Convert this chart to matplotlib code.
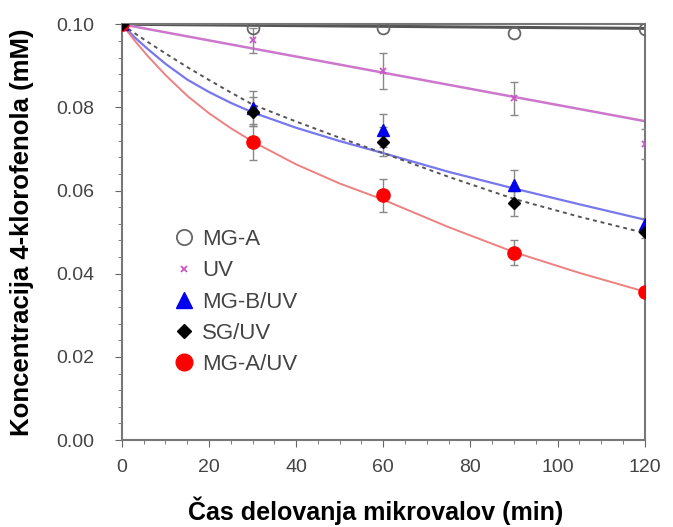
import numpy as np
import matplotlib
matplotlib.use('Agg')
import matplotlib.pyplot as plt
from matplotlib.lines import Line2D
from matplotlib.ticker import MultipleLocator

plt.rcParams['font.family'] = ['Liberation Sans', 'DejaVu Sans']

# measured points
t = [0, 30, 60, 90, 120]
mga = [0.100, 0.0990, 0.0990, 0.0980, 0.0988]
uv = [0.100, 0.0962, 0.0887, 0.0822, 0.0712]
uv_err = [0, 0.0030, 0.0043, 0.0040, 0.0035]
mgb_uv = [0.100, 0.0798, 0.0745, 0.0613, 0.0520]
mgb_err = [0, 0.0042, 0.0040, 0.0036, 0.0015]
sg_uv = [0.100, 0.0790, 0.0717, 0.0570, 0.0500]
sg_err = [0, 0.0035, 0.0035, 0.0030, 0.0015]
mga_uv = [0.100, 0.0716, 0.0589, 0.0450, 0.0356]
mga_uv_err = [0, 0.0043, 0.0040, 0.0030, 0.0010]

# fitted curves
t_fit = [0, 3, 6, 10, 15, 20, 25, 30, 40, 50, 60, 75, 90, 105, 120]
fit_mgb = [0.100, 0.0968, 0.0940, 0.0905, 0.0867, 0.0837, 0.0811, 0.0788, 0.0751, 0.0719, 0.0690, 0.0645, 0.0605, 0.0567, 0.0530]
fit_sg = [0.100, 0.0978, 0.0957, 0.0930, 0.0897, 0.0866, 0.0836, 0.0807, 0.0766, 0.0727, 0.0690, 0.0633, 0.0580, 0.0537, 0.0498]
fit_mga_uv = [0.100, 0.0960, 0.0923, 0.0878, 0.0828, 0.0786, 0.0750, 0.0718, 0.0663, 0.0617, 0.0578, 0.0512, 0.0452, 0.0402, 0.0357]
t_lin = [0, 120]
fit_uv = [0.100, 0.0767]
fit_mga = [0.100, 0.0990]

fig = plt.figure(figsize=(6.73, 5.27), dpi=100)
ax = fig.add_axes([0.181, 0.165, 0.777, 0.789])

ax.plot(t_lin, fit_mga, color='#555555', lw=2.2, zorder=2)
ax.plot(t_lin, fit_uv, color='#cc77cc', lw=1.8, zorder=2)
ax.plot(t_fit, fit_mgb, color='#7777ee', lw=1.6, zorder=2)
ax.plot(t_fit, fit_sg, color='#555555', lw=1.4, ls=(0, (2, 2)), zorder=2)
ax.plot(t_fit, fit_mga_uv, color='#ee8080', lw=1.4, zorder=2)

eb = dict(ecolor='#888888', elinewidth=1, capsize=3, capthick=1, ls='none', zorder=3)
ax.errorbar(t, uv, yerr=uv_err, **eb)
ax.errorbar(t, mgb_uv, yerr=mgb_err, **eb)
ax.errorbar(t, sg_uv, yerr=sg_err, **eb)
ax.errorbar(t, mga_uv, yerr=mga_uv_err, **eb)

ax.plot(t, mga, 'o', ms=8.5, mfc='none', mec='#666666', mew=1.3, zorder=4)
ax.plot(t, uv, 'x', ms=5, color='#cc55cc', mew=1.3, zorder=4)
ax.plot(t, mgb_uv, '^', ms=8.5, color='#0000ee', zorder=4)
ax.plot(t, sg_uv, 'D', ms=6.5, color='black', zorder=5)
ax.plot(t, mga_uv, 'o', ms=9.5, color='#ff0000', zorder=4)

ax.set_xlim(0, 120)
ax.set_ylim(0, 0.10)
ax.xaxis.set_major_locator(MultipleLocator(20))
ax.xaxis.set_minor_locator(MultipleLocator(5))
ax.yaxis.set_major_locator(MultipleLocator(0.02))
ax.yaxis.set_minor_locator(MultipleLocator(0.004))
ax.set_yticklabels([f'{v:.2f}' for v in ax.get_yticks()])
ax.tick_params(which='both', direction='out', colors='#666666', labelcolor='#444444',
               labelsize=14)
ax.tick_params(which='major', length=5)
ax.tick_params(which='minor', length=3)
ax.tick_params(axis='x', pad=9)
ax.tick_params(axis='y', pad=15)
for s in ax.spines.values():
    s.set_color('#777777')
    s.set_linewidth(1.5)

ax.set_xlabel('Čas delovanja mikrovalov (min)', fontsize=18, fontweight='bold')
ax.xaxis.set_label_coords(0.485, -0.135)
ax.set_ylabel('Koncentracija 4-klorofenola (mM)', fontsize=18.5, fontweight='bold', labelpad=16)

handles = [
    Line2D([], [], marker='o', ls='none', ms=11, mfc='none', mec='#666666', mew=1.3),
    Line2D([], [], marker='x', ls='none', ms=5, color='#cc55cc', mew=1.3),
    Line2D([], [], marker='^', ls='none', ms=11, color='#0000ee'),
    Line2D([], [], marker='D', ls='none', ms=7, color='black'),
    Line2D([], [], marker='o', ls='none', ms=12, color='#ff0000'),
]
labels = ['MG-A', 'UV', 'MG-B/UV', 'SG/UV', 'MG-A/UV']
leg = ax.legend(handles, labels, loc='upper left', bbox_to_anchor=(0.062, 0.555),
                frameon=False, fontsize=16, labelspacing=0.46, handlelength=0.9,
                handletextpad=0.35)
for txt in leg.get_texts():
    txt.set_color('#444444')

fig.savefig('out.png', dpi=100)
